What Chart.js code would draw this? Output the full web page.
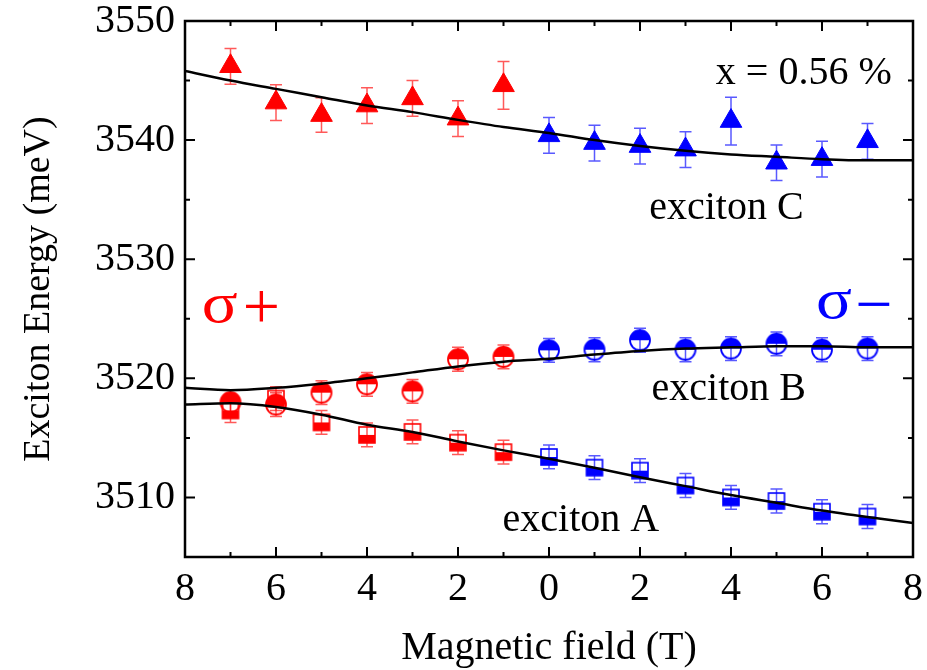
<!DOCTYPE html>
<html>
<head>
<meta charset="utf-8">
<script src="https://cdn.jsdelivr.net/npm/chart.js@4.4.1/dist/chart.umd.min.js"></script>
<style>
  body { margin: 0; background: #fff; }
  canvas { display: block; }
</style>
</head>
<body>
<canvas id="chart" width="927" height="670"></canvas>
<script>
// campo magnético (T): sigma+ à esquerda, sigma- à direita
const fieldPlus = [-7, -6, -5, -4, -3, -2, -1];
const fieldMinus = [0, 1, 2, 3, 4, 5, 6, 7];
const fieldFit = [-8, -7, -6, -5, -4, -3, -2, -1, 0, 1, 2, 3, 4, 5, 6, 7, 8];

// exciton C (triângulos)
const cPlus = [3546.2, 3543.15, 3542.1, 3542.9, 3543.5, 3541.8, 3544.6];
const cPlusErr = [1.5, 1.5, 1.45, 1.5, 1.5, 1.5, 2.0];
const cMinus = [3540.4, 3539.75, 3539.5, 3539.2, 3541.6, 3538.1, 3538.4, 3539.9];
const cMinusErr = [1.5, 1.5, 1.5, 1.5, 2.0, 1.5, 1.5, 1.5];

// exciton B (círculos)
const bPlus = [3518.0, 3517.8, 3518.8, 3519.5, 3518.9, 3521.6, 3521.8];
const bPlusErr = [1.0, 1.0, 1.0, 1.0, 1.0, 1.0, 1.0];
const bMinus = [3522.35, 3522.4, 3523.2, 3522.4, 3522.5, 3522.9, 3522.4, 3522.5];
const bMinusErr = [1.0, 1.0, 1.0, 1.0, 1.0, 1.0, 1.0, 1.0];

// exciton A (quadrados)
const aPlus = [3517.3, 3518.3, 3516.3, 3515.25, 3515.5, 3514.6, 3513.8];
const aPlusErr = [1.0, 1.0, 1.0, 1.0, 1.0, 1.0, 1.0];
const aMinus = [3513.4, 3512.5, 3512.25, 3511.0, 3510.0, 3509.7, 3508.8, 3508.4];
const aMinusErr = [1.0, 1.0, 1.0, 1.0, 1.0, 1.0, 1.0, 1.0];

// curvas de ajuste
const fitC = [3545.8, 3545.0, 3544.3, 3543.6, 3542.9, 3542.35, 3541.7, 3541.1, 3540.6, 3540.0, 3539.5, 3539.1, 3538.8, 3538.6, 3538.4, 3538.3, 3538.3];
const fitB = [3519.2, 3519.0, 3519.2, 3519.55, 3520.0, 3520.5, 3521.0, 3521.4, 3521.65, 3522.0, 3522.3, 3522.5, 3522.6, 3522.7, 3522.7, 3522.6, 3522.6];
const fitA = [3517.8, 3517.9, 3517.6, 3516.95, 3516.1, 3515.5, 3514.7, 3513.95, 3513.25, 3512.5, 3511.7, 3510.95, 3510.2, 3509.55, 3508.9, 3508.35, 3507.85];

const RED = '#ff0000';
const BLUE = '#0000ff';
const FONT = "'Liberation Serif', 'Times New Roman', serif";

const pts = (xs, ys) => xs.map((x, i) => ({ x: x, y: ys[i] }));

// marcadores meio preenchidos
function halfCircle(color) {
    const c = document.createElement('canvas');
    c.width = c.height = 26;
    const g = c.getContext('2d');
    g.beginPath();
    g.arc(13, 13, 10, Math.PI, 2 * Math.PI);
    g.closePath();
    g.fillStyle = color;
    g.fill();
    g.beginPath();
    g.arc(13, 13, 10, 0, 2 * Math.PI);
    g.lineWidth = 1.8;
    g.strokeStyle = color;
    g.stroke();
    return c;
}

function halfSquare(color) {
    const c = document.createElement('canvas');
    c.width = c.height = 24;
    const g = c.getContext('2d');
    g.fillStyle = color;
    g.fillRect(4, 12, 16, 8);
    g.lineWidth = 1.6;
    g.strokeStyle = color;
    g.strokeRect(4, 4, 16, 16);
    return c;
}

function markers(label, xs, ys, err, color, style, radius) {
    return {
        label: label,
        data: pts(xs, ys),
        err: err,
        errColor: color === RED ? 'rgba(255, 0, 0, 0.65)' : 'rgba(0, 0, 255, 0.65)',
        pointStyle: style,
        pointRadius: radius,
        backgroundColor: color,
        borderColor: color,
        borderWidth: 1,
        showLine: false,
        order: 1
    };
}

function fit(label, ys) {
    return {
        label: label,
        data: pts(fieldFit, ys),
        showLine: true,
        pointRadius: 0,
        borderColor: '#000',
        borderWidth: 2.5,
        cubicInterpolationMode: 'monotone',
        order: 0
    };
}

// barras de erro desenhadas antes dos marcadores
const errorBars = {
    id: 'errorBars',
    beforeDatasetsDraw(chart) {
        const { ctx, scales: { x, y } } = chart;
        chart.data.datasets.forEach(ds => {
            if (!ds.err) return;
            ctx.save();
            ctx.strokeStyle = ds.errColor;
            ctx.lineWidth = 1.5;
            ds.data.forEach((p, i) => {
                const px = x.getPixelForValue(p.x);
                const top = y.getPixelForValue(p.y + ds.err[i]);
                const bot = y.getPixelForValue(p.y - ds.err[i]);
                ctx.beginPath();
                ctx.moveTo(px, top); ctx.lineTo(px, bot);
                ctx.moveTo(px - 6, top); ctx.lineTo(px + 6, top);
                ctx.moveTo(px - 6, bot); ctx.lineTo(px + 6, bot);
                ctx.stroke();
            });
            ctx.restore();
        });
    }
};

// moldura com marcas para dentro nos quatro lados + textos
const frame = {
    id: 'frame',
    afterDatasetsDraw(chart) {
        const { ctx, chartArea: a, scales: { x, y } } = chart;
        ctx.save();
        ctx.strokeStyle = '#000';
        ctx.lineWidth = 2.5;
        ctx.strokeRect(a.left, a.top, a.right - a.left, a.bottom - a.top);
        ctx.lineWidth = 2;
        ctx.beginPath();
        for (let v = x.min; v <= x.max; v += 1) {
            const px = x.getPixelForValue(v);
            const len = v % 2 === 0 ? 10 : 5;
            ctx.moveTo(px, a.bottom); ctx.lineTo(px, a.bottom - len);
            ctx.moveTo(px, a.top); ctx.lineTo(px, a.top + len);
        }
        for (let v = y.min; v <= y.max; v += 5) {
            const py = y.getPixelForValue(v);
            const len = v % 10 === 0 ? 10 : 5;
            ctx.moveTo(a.left, py); ctx.lineTo(a.left + len, py);
            ctx.moveTo(a.right, py); ctx.lineTo(a.right - len, py);
        }
        ctx.stroke();
        ctx.restore();
    },
    afterDraw(chart) {
        const { ctx, scales: { x, y } } = chart;
        const put = (text, vx, vy, size, color, stretch, base, align) => {
            ctx.save();
            ctx.translate(x.getPixelForValue(vx), y.getPixelForValue(vy));
            ctx.scale(stretch, 1);
            ctx.font = size + 'px ' + FONT;
            ctx.fillStyle = color;
            ctx.textAlign = align || 'center';
            ctx.textBaseline = base;
            ctx.fillText(text, 0, 0);
            ctx.restore();
        };
        put('x = 0.56 %', 5.6, 3545.6, 40, '#000', 1, 'middle');
        put('exciton C', 3.9, 3534.3, 40, '#000', 1, 'middle');
        put('exciton B', 3.95, 3519.1, 40, '#000', 1, 'middle');
        put('exciton A', 0.7, 3508.1, 40, '#000', 1, 'middle');
        // σ+ e σ− : letra e sinal separados
        put('σ', -7.63, 3524.7, 58, RED, 1.15, 'alphabetic', 'left');
        put('+', -6.73, 3524.25, 66, RED, 1, 'alphabetic', 'left');
        put('σ', 5.87, 3525.1, 58, BLUE, 1.15, 'alphabetic', 'left');
        put('\u2212', 6.73, 3524.4, 66, BLUE, 1, 'alphabetic', 'left');
    }
};

Chart.defaults.font.family = FONT;
Chart.defaults.color = '#000';

new Chart(document.getElementById('chart'), {
    type: 'scatter',
    data: {
        datasets: [
            fit('fit C', fitC),
            fit('fit B', fitB),
            fit('fit A', fitA),
            markers('C σ+', fieldPlus, cPlus, cPlusErr, RED, 'triangle', 12.5),
            markers('C σ-', fieldMinus, cMinus, cMinusErr, BLUE, 'triangle', 12.5),
            markers('A σ+', fieldPlus, aPlus, aPlusErr, RED, halfSquare(RED), 10),
            markers('A σ-', fieldMinus, aMinus, aMinusErr, BLUE, halfSquare(BLUE), 10),
            markers('B σ+', fieldPlus, bPlus, bPlusErr, RED, halfCircle(RED), 10),
            markers('B σ-', fieldMinus, bMinus, bMinusErr, BLUE, halfCircle(BLUE), 10)
        ]
    },
    options: {
        responsive: false,
        animation: false,
        layout: { padding: { top: 21, right: 14, left: 0, bottom: 0 } },
        plugins: {
            legend: { display: false },
            tooltip: { enabled: false }
        },
        scales: {
            x: {
                type: 'linear',
                min: -8,
                max: 8,
                grid: { display: false, drawTicks: false },
                border: { display: false },
                ticks: {
                    stepSize: 2,
                    padding: 8,
                    font: { size: 40 },
                    callback: v => Math.abs(v)
                },
                title: {
                    display: true,
                    text: 'Magnetic field (T)',
                    font: { size: 40, lineHeight: 1.1 },
                    padding: { top: 0, bottom: 0 }
                },
                afterFit: s => { s.height = 113; s.paddingLeft = 0; s.paddingRight = 0; }
            },
            y: {
                min: 3505,
                max: 3550,
                grid: { display: false, drawTicks: false },
                border: { display: false },
                ticks: {
                    stepSize: 10,
                    padding: 10,
                    font: { size: 40 },
                    callback: v => (v % 10 === 0 ? v : '')
                },
                title: {
                    display: true,
                    text: 'Exciton Energy (meV)',
                    font: { size: 38 },
                    padding: { top: 16, bottom: 0 }
                },
                afterFit: s => { s.width = 185; s.paddingTop = 0; s.paddingBottom = 0; }
            }
        }
    },
    plugins: [errorBars, frame]
});
</script>
</body>
</html>
